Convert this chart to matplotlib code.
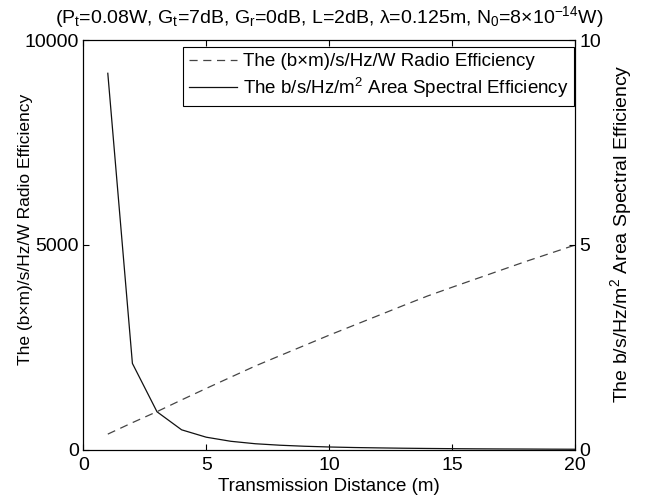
import matplotlib
matplotlib.use("Agg")
import matplotlib.pyplot as plt

plt.rcParams['font.family'] = ['Liberation Sans', 'DejaVu Sans']
plt.rcParams['mathtext.default'] = 'regular'
plt.rcParams['font.size'] = 10

# transmission distance (m)
distance = [1, 2, 3, 4, 5, 6, 7, 8, 9, 10, 11, 12, 13, 14, 15, 16, 17, 18, 19, 20]
# (b x m)/s/Hz/W radio efficiency, left axis
radio_eff = [385, 665, 934, 1220, 1500, 1775, 2049, 2300, 2550, 2800,
             3040, 3280, 3520, 3756, 3970, 4180, 4390, 4600, 4800, 5000]
# b/s/Hz/m^2 area spectral efficiency, right axis
area_eff = [9.19, 2.11, 0.93, 0.49, 0.31, 0.21, 0.15, 0.114, 0.089, 0.071,
            0.058, 0.049, 0.041, 0.035, 0.030, 0.026, 0.023, 0.021, 0.018, 0.016]

x_ticks = [0, 5, 10, 15, 20]
left_ticks = [0, 5000, 10000]
right_ticks = [0, 5, 10]

fig = plt.figure(figsize=(6.5, 5.01), dpi=100)
ax1 = fig.add_axes([0.128, 0.102, 0.757, 0.818])
ax2 = ax1.twinx()

l1, = ax1.plot(distance, radio_eff, color='#444444', linestyle=(0, (6.5, 4.5)), linewidth=0.9)
l2, = ax2.plot(distance, area_eff, color='#111111', linestyle='-', linewidth=0.9)

ax1.set_xlim(0, 20)
ax1.set_ylim(0, 10000)
ax2.set_ylim(0, 10)
ax1.set_xticks(x_ticks)
ax1.set_yticks(left_ticks)
ax2.set_yticks(right_ticks)

ax1.tick_params(direction='in', length=4, top=True, labelsize=14, pad=3)
ax1.tick_params(axis='x', pad=5)
ax2.tick_params(direction='in', length=4, labelsize=14, pad=3)
for a in (ax1, ax2):
    for s in a.spines.values():
        s.set_linewidth(0.8)

ax1.set_xlabel('Transmission Distance (m)', fontsize=13.5, labelpad=3)
ax1.set_ylabel('The (b\u00d7m)/s/Hz/W Radio Efficiency', fontsize=12.5)
ax1.yaxis.set_label_coords(-0.102, 0.537)
ax2.set_ylabel('The b/s/Hz/m$^2$ Area Spectral Efficiency', fontsize=14)
ax2.yaxis.set_label_coords(1.066, 0.527)
ax1.set_title('(P$_t$=0.08W, G$_t$=7dB, G$_r$=0dB, L=2dB, \u03bb=0.125m, N$_0$=8\u00d710$^{-14}$W)',
              fontsize=14, pad=12)

leg = ax2.legend([l1, l2],
                 ['The (b\u00d7m)/s/Hz/W Radio Efficiency',
                  'The b/s/Hz/m$^2$ Area Spectral Efficiency'],
                 loc='upper right', bbox_to_anchor=(0.998, 0.982), borderaxespad=0,
                 fontsize=13.5, fancybox=False, edgecolor='black',
                 framealpha=1, handlelength=2.6, handletextpad=0.3,
                 labelspacing=0.3, borderpad=0.3)
leg.get_frame().set_linewidth(0.8)

fig.savefig('out.png', dpi=100)
